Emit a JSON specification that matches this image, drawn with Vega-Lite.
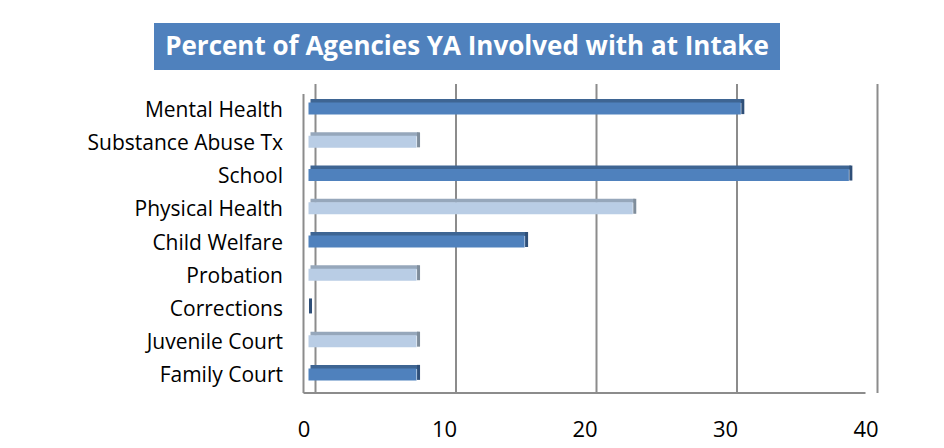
{
  "$schema": "https://vega.github.io/schema/vega-lite/v6.json",
  "background": "white",
  "padding": {"left": 56, "top": 23, "right": 0, "bottom": 0},
  "center": true,
  "spacing": 13,
  "datasets": {
    "agencies": [
      {"agency": "Mental Health", "pct": 30.77, "g": "d"},
      {"agency": "Substance Abuse Tx", "pct": 7.69, "g": "l"},
      {"agency": "School", "pct": 38.46, "g": "d"},
      {"agency": "Physical Health", "pct": 23.08, "g": "l"},
      {"agency": "Child Welfare", "pct": 15.38, "g": "d"},
      {"agency": "Probation", "pct": 7.69, "g": "l"},
      {"agency": "Corrections", "pct": 0, "g": "d"},
      {"agency": "Juvenile Court", "pct": 7.69, "g": "l"},
      {"agency": "Family Court", "pct": 7.69, "g": "d"}
    ],
    "gridvals": [{"v": 0}, {"v": 10}, {"v": 20}, {"v": 30}, {"v": 40}],
    "heading": [{"t": "Percent of Agencies YA Involved with at Intake"}]
  },
  "vconcat": [
    {
      "width": 626,
      "height": 47,
      "view": {"fill": "#4f81bd", "stroke": null},
      "data": {"name": "heading"},
      "mark": {"type": "text", "font": "Open Sans", "fontWeight": "bold", "fontSize": 26, "color": "white", "align": "center", "baseline": "middle"},
      "encoding": {
        "text": {"field": "t"},
        "y": {"field": "t", "type": "nominal", "axis": {"orient": "right", "title": null, "ticks": false, "domain": false, "grid": false, "labelExpr": "' '", "labelOpacity": 0, "minExtent": 248, "maxExtent": 248}}
      }
    },
    {
      "width": 562,
      "height": 299,
      "view": {"stroke": null},
      "layer": [
        {
          "data": {"name": "gridvals"},
          "mark": {"type": "rule", "color": "#8c8c8c", "strokeWidth": 2, "xOffset": 12, "yOffset": -10, "y2Offset": -10},
          "encoding": {
            "x": {"field": "v", "type": "quantitative", "scale": {"domain": [0, 40], "nice": false},
              "axis": {"title": null, "domain": false, "ticks": false, "labelPadding": 26, "values": [0, 10, 20, 30, 40]}}
          }
        },
        {
          "data": {"name": "gridvals"},
          "transform": [{"filter": "datum.v === 0"}],
          "mark": {"type": "rule", "color": "#8c8c8c", "strokeWidth": 2},
          "encoding": {
            "x": {"field": "v", "type": "quantitative"}
          }
        },
        {
          "data": {"name": "gridvals"},
          "transform": [{"filter": "datum.v === 0"}],
          "mark": {"type": "rule", "color": "#8c8c8c", "strokeWidth": 2, "yOffset": 5},
          "encoding": {
            "x": {"field": "v", "type": "quantitative"},
            "x2": {"datum": 40},
            "y": {"datum": "Family Court", "type": "nominal", "bandPosition": 1,
              "scale": {"domain": ["Mental Health", "Substance Abuse Tx", "School", "Physical Health", "Child Welfare", "Probation", "Corrections", "Juvenile Court", "Family Court"]}}
          }
        },
        {
          "data": {"name": "agencies"},
          "mark": {"type": "bar", "height": 4, "yOffset": -9.5, "xOffset": 7},
          "encoding": {
            "y": {"field": "agency", "type": "nominal",
              "scale": {"domain": ["Mental Health", "Substance Abuse Tx", "School", "Physical Health", "Child Welfare", "Probation", "Corrections", "Juvenile Court", "Family Court"]},
              "axis": {"title": null, "domain": false}},
            "x": {"field": "pct", "type": "quantitative"},
            "color": {"condition": {"test": "datum.g === 'd'", "value": "#3e6593"}, "value": "#96a7bb"}
          }
        },
        {
          "data": {"name": "agencies"},
          "mark": {"type": "bar", "height": 12, "yOffset": -2, "xOffset": 5},
          "encoding": {
            "y": {"field": "agency", "type": "nominal",
              "scale": {"domain": ["Mental Health", "Substance Abuse Tx", "School", "Physical Health", "Child Welfare", "Probation", "Corrections", "Juvenile Court", "Family Court"]}},
            "x": {"field": "pct", "type": "quantitative"},
            "color": {"condition": {"test": "datum.g === 'd'", "value": "#4f81bd"}, "value": "#b9cde5"}
          }
        },
        {
          "data": {"name": "agencies"},
          "mark": {"type": "tick", "orient": "vertical", "thickness": 3, "size": 15, "yOffset": -4, "xOffset": 7, "opacity": 1},
          "encoding": {
            "y": {"field": "agency", "type": "nominal",
              "scale": {"domain": ["Mental Health", "Substance Abuse Tx", "School", "Physical Health", "Child Welfare", "Probation", "Corrections", "Juvenile Court", "Family Court"]}},
            "x": {"field": "pct", "type": "quantitative"},
            "color": {"condition": {"test": "datum.g === 'd'", "value": "#2f4f78"}, "value": "#7f8d9b"}
          }
        }
      ]
    }
  ],
  "config": {
    "font": "Open Sans",
    "axisX": {
      "grid": false,
      "labelFont": "Open Sans",
      "labelFontSize": 22,
      "labelColor": "#000000",
      "labelPadding": 26,
      "labelBound": false,
      "labelFlush": false
    },
    "axisY": {
      "grid": false,
      "ticks": false,
      "labelFont": "Open Sans",
      "labelFontSize": 21,
      "labelColor": "#000000",
      "labelPadding": 21,
      "labelLimit": 400,
      "minExtent": 247
    },
    "scale": {"bandPaddingInner": 0.3, "bandPaddingOuter": 0.15}
  }
}
